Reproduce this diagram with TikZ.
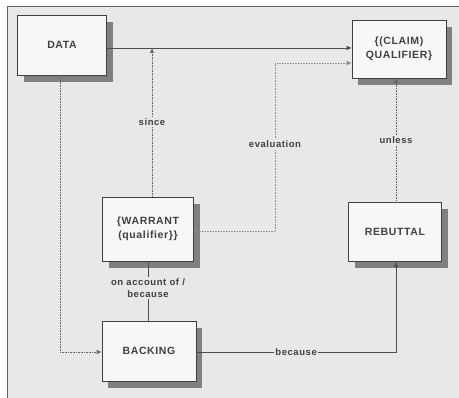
\documentclass[tikz,border=0pt]{standalone}
\usepackage{fontspec}
\setmainfont{Liberation Sans}[LetterSpace=6]
\usetikzlibrary{arrows.meta,shadows,positioning}
\begin{document}
\begin{tikzpicture}[x=1pt,y=-1pt,
  box/.style={draw=black!75, line width=0.6pt, fill=gray!6, align=center, inner sep=0pt,
    font=\bfseries\fontsize{10.5}{13.5}\selectfont, text=black!75,
    drop shadow={shadow xshift=6pt, shadow yshift=-7pt, fill=black!50, opacity=1}},
  conn/.style={draw=black!70, line width=0.6pt},
  dconn/.style={draw=black!60, line width=0.6pt, densely dotted},
  tip/.style={-{Latex[length=5pt,width=4.5pt]}},
  lbl/.style={fill=gray!18, inner sep=1.5pt, font=\bfseries\fontsize{9.5}{11.5}\selectfont, text=black!75, align=center}
]
\useasboundingbox (0,0) rectangle (459,398);
\fill[white] (0,0) rectangle (459,398);
\fill[gray!18] (7,6) rectangle (459,398);
\draw[black!60, line width=0.8pt] (7,398) -- (7,6) -- (459,6);

\node[box, minimum width=89pt, minimum height=60pt] (data) at (62,45) {DATA};
\node[box, minimum width=94pt, minimum height=58pt] (claim) at (399,49) {\{(CLAIM)\\QUALIFIER\}};
\node[box, minimum width=91pt, minimum height=64pt] (warrant) at (148,229) {\{WARRANT\\(qualifier\}\}};
\node[box, minimum width=94pt, minimum height=60pt] (backing) at (149,351) {BACKING};
\node[box, minimum width=93pt, minimum height=59pt] (rebuttal) at (395,232) {REBUTTAL};

\coordinate (j1) at (152,48);
\coordinate (e1) at (275,231);
\coordinate (e2) at (275,63);
\coordinate (b1) at (60,352);
\coordinate (c1) at (396,352);

% DATA -> CLAIM
\draw[conn, tip] (data.east |- j1) -- (claim.west |- j1);
% since
\draw[dconn, tip] (warrant.north -| j1) -- node[lbl, pos=0.5] {since} (j1);
% evaluation
\draw[dconn, draw=black!45, tip] (warrant.east |- e1) -- (e1) -- node[lbl, pos=0.52] {evaluation} (e2) -- (claim.west |- e2);
% unless
\draw[dconn, tip] (rebuttal.north -| c1) -- node[lbl, pos=0.5] {unless} (claim.south -| c1);
% on account of / because
\draw[conn] (warrant.south) -- node[lbl, pos=0.45] {on account of /\\because} (backing.north -| warrant.south);
% DATA -> BACKING
\draw[dconn, tip] (data.south -| b1) -- (b1) -- (backing.west |- b1);
% because
\draw[conn, tip] (backing.east |- c1) -- node[lbl, pos=0.5] {because} (c1) -- (rebuttal.south -| c1);
\end{tikzpicture}
\end{document}
